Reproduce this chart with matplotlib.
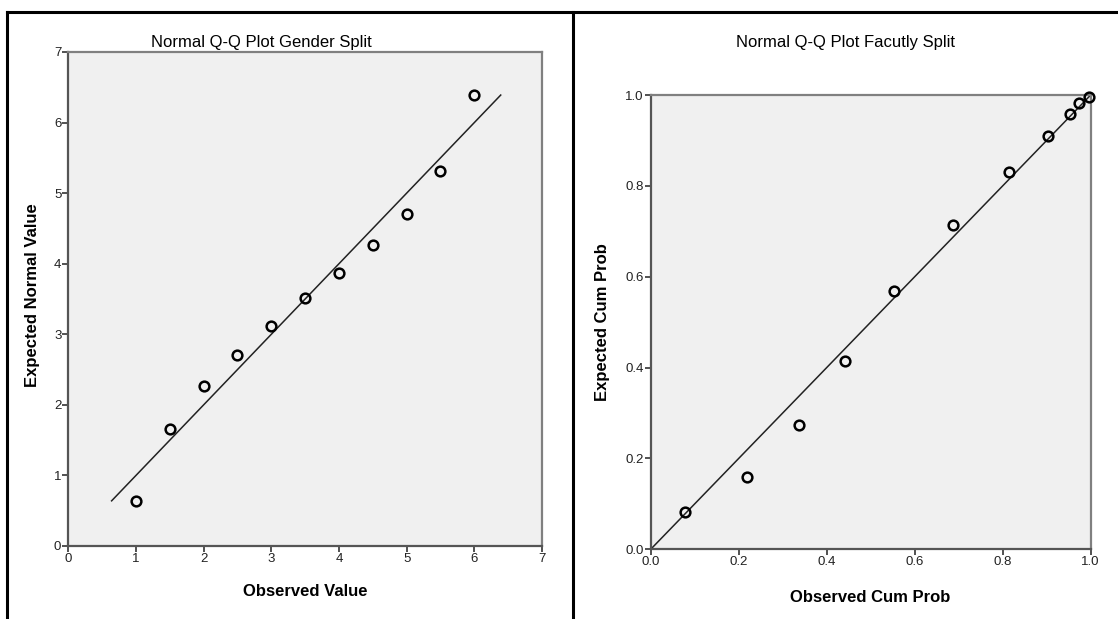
import matplotlib
matplotlib.use("Agg")
import matplotlib.pyplot as plt
from matplotlib.lines import Line2D
from matplotlib.ticker import FormatStrFormatter

plt.rcParams['font.family'] = ['Liberation Sans', 'DejaVu Sans']

# Left panel: Gender split
gender_observed = [1.0, 1.5, 2.0, 2.5, 3.0, 3.5, 4.0, 4.5, 5.0, 5.5, 6.0]
gender_expected = [0.64, 1.66, 2.27, 2.70, 3.12, 3.52, 3.87, 4.26, 4.70, 5.32, 6.39]
gender_line = [0.64, 6.39]
gender_ticks = [0, 1, 2, 3, 4, 5, 6, 7]

# Right panel: Faculty split
faculty_observed = [0.077, 0.218, 0.338, 0.442, 0.552, 0.688, 0.814, 0.904, 0.952, 0.973, 0.995]
faculty_expected = [0.083, 0.160, 0.274, 0.415, 0.569, 0.714, 0.830, 0.910, 0.958, 0.983, 0.995]
faculty_line = [0.0, 1.0]
faculty_ticks = [0.0, 0.2, 0.4, 0.6, 0.8, 1.0]

W, H = 1118, 619
fig = plt.figure(figsize=(W / 100, H / 100), dpi=100)
fig.patch.set_facecolor('white')

def fx(px):
    return px / W

def fy(py):
    return 1 - py / H

# frame lines
fig.add_artist(Line2D([fx(7), fx(1118)], [fy(12), fy(12)], color='black', lw=2.2))
fig.add_artist(Line2D([fx(7), fx(7)], [fy(12), fy(619)], color='black', lw=2.2))
fig.add_artist(Line2D([fx(573), fx(573)], [fy(12), fy(619)], color='black', lw=2.2))

def style_axes(ax):
    ax.set_facecolor('#f0f0f0')
    for s in ['left', 'bottom', 'right', 'top']:
        ax.spines[s].set_color('#555555')
        ax.spines[s].set_linewidth(1.6)
    ax.spines['top'].set_color('#808080')
    ax.spines['right'].set_color('#808080')
    ax.tick_params(axis='both', direction='out', length=4, width=1.2, color='#333333',
                   labelsize=9.5, labelcolor='#222222', pad=1)

# Left axes
axL = fig.add_axes([fx(68.3), fy(546), fx(542) - fx(68.3), fy(52) - fy(546)])
style_axes(axL)
axL.plot(gender_line, gender_line, color='#222222', lw=1.1, zorder=2)
axL.plot(gender_observed, gender_expected, linestyle='none', marker='o', ms=7,
         mfc='none', mec='black', mew=1.8, zorder=3)
axL.set_xlim(0, 7)
axL.set_ylim(0, 7)
axL.set_xticks(gender_ticks)
axL.set_yticks(gender_ticks)

# Right axes
axR = fig.add_axes([fx(650.7), fy(549.3), fx(1090.7) - fx(650.7), fy(95) - fy(549.3)])
style_axes(axR)
axR.plot(faculty_line, faculty_line, color='#222222', lw=1.1, zorder=2)
axR.plot(faculty_observed, faculty_expected, linestyle='none', marker='o', ms=7,
         mfc='none', mec='black', mew=1.8, zorder=3, clip_on=False)
axR.set_xlim(0, 1)
axR.set_ylim(0, 1)
axR.set_xticks(faculty_ticks)
axR.set_yticks(faculty_ticks)
axR.xaxis.set_major_formatter(FormatStrFormatter('%.1f'))
axR.yaxis.set_major_formatter(FormatStrFormatter('%.1f'))

# Titles and labels
fig.text(fx(261), fy(42), 'Normal Q-Q Plot Gender Split', ha='center', va='center',
         fontsize=12, color='black')
fig.text(fx(305), fy(591), 'Observed Value', ha='center', va='center',
         fontsize=12, fontweight='bold')
fig.text(fx(33), fy(295), 'Expected Normal Value', ha='center', va='center',
         rotation=90, fontsize=12, fontweight='bold')

fig.text(fx(845), fy(42), 'Normal Q-Q Plot Facutly Split', ha='center', va='center',
         fontsize=12, color='black')
fig.text(fx(870), fy(598), 'Observed Cum Prob', ha='center', va='center',
         fontsize=12, fontweight='bold')
fig.text(fx(603), fy(322), 'Expected Cum Prob', ha='center', va='center',
         rotation=90, fontsize=12, fontweight='bold')

fig.savefig('out.png', dpi=100)
